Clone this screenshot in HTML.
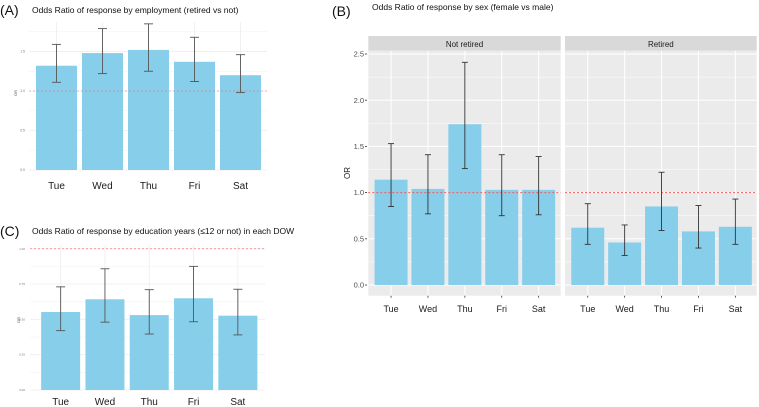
<!DOCTYPE html>
<html><head><meta charset="utf-8"><style>
html,body{margin:0;padding:0;background:#fff;}
svg{display:block;font-family:"Liberation Sans","Noto Sans CJK SC",sans-serif;}
</style></head><body>
<svg id="fig" width="759" height="407" viewBox="0 0 759 407" xmlns="http://www.w3.org/2000/svg"></svg>
<script>
const days = ["Tue","Wed","Thu","Fri","Sat"];
const aValues = [1.32,1.48,1.52,1.37,1.20];
const aLower = [1.11,1.22,1.25,1.12,0.98];
const aUpper = [1.59,1.79,1.85,1.68,1.46];
const aTicks = ["0.0","0.5","1.0","1.5"];
const cValues = [0.552,0.642,0.530,0.649,0.526];
const cLower = [0.420,0.480,0.396,0.483,0.390];
const cUpper = [0.730,0.858,0.710,0.875,0.713];
const cTicks = ["0.00","0.25","0.50","0.75","1.00"];
const bNRValues = [1.14,1.04,1.74,1.03,1.03];
const bNRLower = [0.85,0.77,1.26,0.75,0.76];
const bNRUpper = [1.53,1.41,2.41,1.41,1.39];
const bRValues = [0.62,0.46,0.85,0.58,0.63];
const bRLower = [0.44,0.32,0.59,0.40,0.44];
const bRUpper = [0.88,0.65,1.22,0.86,0.93];
const bTicks = ["0.0","0.5","1.0","1.5","2.0","2.5"];
const facets = ["Not retired","Retired"];

const NS="http://www.w3.org/2000/svg";
const svg=document.getElementById('fig');
function mk(tag,attrs,parent,text){const e=document.createElementNS(NS,tag);for(const k in attrs)e.setAttribute(k,attrs[k]);if(text!==undefined)e.textContent=text;(parent||svg).appendChild(e);return e;}

function panel(o){
  const g=mk('g',{});
  
  
  const y=v=>o.y0-v*o.ppu;
  const x=i=>o.x0+o.band*(i+0.5);
  if(o.bg){const r=mk('rect',{x:o.px0,y:o.py0,width:o.px1-o.px0,height:o.py1-o.py0,fill:'#ebebeb'},g);
    }
  const gc=o.bg?'#ffffff':'#f0f0f0';
  for(let v=0;v<=o.ymax+1e-9;v+=o.minor){const l=mk('line',{x1:o.px0,x2:o.px1,y1:y(v),y2:y(v),stroke:gc,'stroke-width':(Math.abs(v/o.major-Math.round(v/o.major))<1e-6)?1:0.5},g);
    }
  days.forEach((d,i)=>{const l=mk('line',{x1:x(i),x2:x(i),y1:o.py0,y2:o.py1,stroke:gc,'stroke-width':1},g);
    });
  o.vals.forEach((v,i)=>{const r=mk('rect',{x:x(i)-o.bw/2,y:y(v),width:o.bw,height:v*o.ppu,fill:'#87ceeb'},g);
    });
  const rl=mk('line',{x1:o.px0,x2:o.px1,y1:y(1),y2:y(1),stroke:'#ff5555','stroke-width':o.bg?1:0.8,'stroke-dasharray':'2,2',opacity:o.bg?1:0.6},g);
  
  o.vals.forEach((v,i)=>{const eg=mk('g',{stroke:o.ec,'stroke-width':0.9},g);
    
    mk('line',{x1:x(i),x2:x(i),y1:y(o.lo[i]),y2:y(o.hi[i])},eg);
    mk('line',{x1:x(i)-o.cap,x2:x(i)+o.cap,y1:y(o.lo[i]),y2:y(o.lo[i])},eg);
    mk('line',{x1:x(i)-o.cap,x2:x(i)+o.cap,y1:y(o.hi[i]),y2:y(o.hi[i])},eg);});
  days.forEach((d,i)=>{if(o.xtick){mk('line',{x1:x(i),x2:x(i),y1:o.py1,y2:o.py1+2,stroke:'#333','stroke-width':0.8},g);}
    const t=mk('text',{x:x(i),y:o.lblY,'text-anchor':'middle','font-size':o.lfs,fill:'#1a1a1a'},g,d);
    });
  return {g,y};
}
function yAxis(g,ticks,y,xr,fs,col,tick){ticks.forEach(t=>{const v=parseFloat(t);
  const e=mk('text',{x:xr,y:y(v)+fs*0.35,'text-anchor':'end','font-size':fs,fill:col},g,t);
  
  if(tick)mk('line',{x1:xr+1,x2:xr+3,y1:y(v),y2:y(v),stroke:'#333','stroke-width':0.8},g);});}
function title(txt,x,y,fs,name){const t=mk('text',{x:x,y:y,'font-size':fs,fill:'#111'},svg,txt);}

title('(A)',0,15,14,'panel-a-letter');
title('Odds Ratio of response by employment (retired vs not)',32,13,8.5,'panel-a-title');
let A=panel({name:'panel-a',x0:33.5,band:46,bw:41,y0:170,ppu:79,px0:29,px1:267,py0:22,py1:170,ymax:1.85,minor:0.25,major:0.5,vals:aValues,lo:aLower,hi:aUpper,ec:'#555',cap:4.5,lblY:189,lfs:10,bg:false,xtick:false});
yAxis(A.g,aTicks,A.y,25,3.5,'#777',false);
let ta=mk('text',{x:0,y:0,'font-size':4,fill:'#555',transform:'translate(17,96) rotate(-90)'},svg,'OR');

title('(C)',0,236,14,'panel-c-letter');
title('Odds Ratio of response by education years (≤12 or not) in each DOW',32,234,8.5,'panel-c-title');
let C=panel({name:'panel-c',x0:38.5,band:44.3,bw:39,y0:390,ppu:141.3,px0:30,px1:265,py0:245,py1:390,ymax:1.0,minor:0.125,major:0.25,vals:cValues,lo:cLower,hi:cUpper,ec:'#555',cap:4.5,lblY:405,lfs:10,bg:false,xtick:false});
yAxis(C.g,cTicks,C.y,25,3,'#777',false);
let tc=mk('text',{x:0,y:0,'font-size':4,fill:'#555',transform:'translate(20,323) rotate(-90)'},svg,'OR');

title('(B)',332,16,14,'panel-b-letter');
title('Odds Ratio of response by sex (female vs male)',372,10,8.5,'panel-b-title');
const bSets=[[bNRValues,bNRLower,bNRUpper,368.3,560.7],[bRValues,bRLower,bRUpper,565,756.7]];
bSets.forEach((s,k)=>{
  const strip=mk('rect',{x:s[3],y:36,width:s[4]-s[3],height:14.5,fill:'#d9d9d9'});
  
  const st=mk('text',{x:(s[3]+s[4])/2,y:47,'text-anchor':'middle','font-size':8,fill:'#1a1a1a'},svg,facets[k]);
  
  const P=panel({name:'panel-b-'+(k?'retired':'not-retired'),x0:s[3]+4.3,band:36.9,bw:33,y0:285,ppu:92.4,px0:s[3],px1:s[4],py0:50.5,py1:295.7,ymax:2.6,minor:0.25,major:0.5,vals:s[0],lo:s[1],hi:s[2],ec:'#333',cap:3,lblY:312,lfs:9,bg:true,xtick:true});
  if(k===0)yAxis(P.g,bTicks,P.y,364,7.5,'#4d4d4d',true);
});
let tb=mk('text',{x:0,y:0,'font-size':8,fill:'#1a1a1a','text-anchor':'middle',transform:'translate(350,173) rotate(-90)'},svg,'OR');
</script>
</body></html>
